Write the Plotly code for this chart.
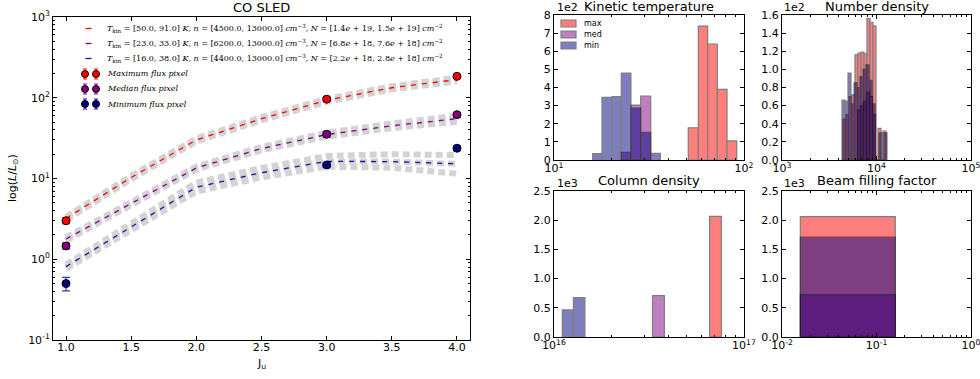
import numpy as np
import plotly.graph_objects as go

W, H = 980, 379

# ---------------- CO SLED data ----------------
J_obs = [1, 3, 4]
L_max = [3.0, 96.0, 184.0]
L_max_err = [0.25, 6.0, 10.0]
L_med = [1.46, 35.3, 61.7]
L_med_err = [0.12, 2.5, 4.0]
L_min = [0.50, 14.7, 23.7]
L_min_err = [0.095, 1.0, 1.6]

J_mod = [1.0, 1.5, 2.0, 2.5, 3.0, 3.5, 4.0]
mod_max = [3.2, 10.3, 30.0, 55.0, 93.0, 133.0, 168.0]
mod_max_lo = [3.05, 9.8, 28.7, 52.5, 89.0, 127.0, 159.0]
mod_max_hi = [3.35, 10.8, 31.3, 57.5, 97.0, 139.0, 177.0]
mod_med = [1.78, 4.9, 13.5, 23.5, 35.0, 45.0, 55.0]
mod_med_lo = [1.70, 4.7, 12.9, 22.4, 33.0, 42.0, 50.5]
mod_med_hi = [1.86, 5.1, 14.1, 24.6, 37.0, 48.0, 60.0]
mod_min = [0.81, 2.5, 7.8, 11.8, 16.3, 16.2, 15.2]
mod_min_lo = [0.76, 2.3, 6.9, 10.3, 14.0, 13.6, 11.5]
mod_min_hi = [0.86, 2.7, 8.9, 13.5, 19.0, 20.0, 19.5]

legend_lines = [
    "<i>T</i><sub>kin</sub> = [50.0, 91.0] <i>K</i>, <i>n</i> = [4500.0, 13000.0] <i>cm</i><sup>−3</sup>, <i>N</i> = [1.4<i>e</i> + 19, 1.5<i>e</i> + 19] <i>cm</i><sup>−2</sup>",
    "<i>T</i><sub>kin</sub> = [23.0, 33.0] <i>K</i>, <i>n</i> = [6200.0, 13000.0] <i>cm</i><sup>−3</sup>, <i>N</i> = [6.8<i>e</i> + 18, 7.6<i>e</i> + 18] <i>cm</i><sup>−2</sup>",
    "<i>T</i><sub>kin</sub> = [16.0, 38.0] <i>K</i>, <i>n</i> = [4400.0, 13000.0] <i>cm</i><sup>−3</sup>, <i>N</i> = [2.2<i>e</i> + 18, 2.8<i>e</i> + 18] <i>cm</i><sup>−2</sup>",
]
legend_points = ["<i>Maximum flux pixel</i>", "<i>Median flux pixel</i>", "<i>Minimum flux pixel</i>"]

# ---------------- histogram data ----------------
# Kinetic temperature [K]
tk_max_edges = [50.9, 57.5, 64.4, 72.4, 81.4, 91.5]
tk_max_counts = [178, 739, 640, 390, 105]
tk_med_edges = [22.6, 25.4, 28.6, 32.3]
tk_med_counts = [42, 303, 353]
tk_min_edges = [15.98, 17.89, 20.2, 22.6, 25.4, 28.6, 32.3, 36.3]
tk_min_counts = [35, 346, 350, 480, 287, 153, 37]

# Number density [cm^-3]
nd_max_edges = [4420, 4760, 5120, 5500, 5920, 6370, 6860, 7380, 7930, 8540, 9180, 9880, 10370, 11160, 11720, 12610]
nd_max_counts = [45, 50, 70, 72, 116, 118, 119, 117, 156, 152, 148, 0, 35, 0, 32]
nd_med_edges = [6296, 6772, 7285, 7837, 8432, 9072, 9760]
nd_med_counts = [55, 60, 65, 75, 70, 50]
nd_min_edges = [4314, 4642, 4994, 5373, 5780, 6219, 6691, 7196, 7743, 8330, 8963, 9641, 10629, 11435, 12006, 12915]
nd_min_counts = [66, 65, 96, 62, 85, 80, 92, 100, 105, 88, 62, 0, 30, 0, 30]

# Column density [cm^-2]
cd_max_edges = [6.59e16, 7.60e16]
cd_max_counts = [2065]
cd_med_edges = [3.30e16, 3.81e16]
cd_med_counts = [709]
cd_min_edges = [1.106e16, 1.265e16, 1.455e16]
cd_min_counts = [463, 675]

# Beam filling factor
bf_max_edges = [0.01563, 0.158]
bf_max_counts = [2060]
bf_med_edges = [0.01563, 0.158]
bf_med_counts = [720]
bf_min_edges = [0.01563, 0.158]
bf_min_counts = [1710]

hist_names = ["max", "med", "min"]
hist_colors = ["red", "purple", "navy"]

# ---------------- helpers ----------------
def px(x):
    return x / W

def py(y):
    return 1 - y / H

FONT = "DejaVu Sans"
SERIF = "DejaVu Serif"

fig = go.Figure()

# ---- CO SLED : gray model bands ----
gray = "#d3d3d3"
bands = [
    [mod_max_lo, mod_max, mod_max_hi],
    [mod_med_lo, mod_med, mod_med_hi],
    [mod_min_lo, mod_min, mod_min_hi],
]
for grp in bands:
    for curve in grp:
        fig.add_trace(go.Scatter(x=J_mod, y=curve, mode="lines",
                                 line=dict(color=gray, width=6, dash="7px,4px"),
                                 hoverinfo="skip", showlegend=False, xaxis="x", yaxis="y"))

line_cols = ["#ff0000", "#800080", "#1515a5"]
for curve, c in zip([mod_max, mod_med, mod_min], line_cols):
    fig.add_trace(go.Scatter(x=J_mod, y=curve, mode="lines",
                             line=dict(color=c, width=1.3, dash="5px,6px"),
                             showlegend=False, xaxis="x", yaxis="y"))

pt_cols = ["#ff0000", "#800080", "#000080"]
err_cols = ["rgba(255,0,0,0.8)", "rgba(128,0,128,0.8)", "rgba(20,20,170,0.85)"]
for vals, errs, c, ec in zip([L_max, L_med, L_min], [L_max_err, L_med_err, L_min_err], pt_cols, err_cols):
    fig.add_trace(go.Scatter(x=J_obs, y=vals, mode="markers",
                             marker=dict(color=c, size=8, line=dict(color="black", width=1)),
                             error_y=dict(type="data", array=errs, color=ec, thickness=1.2, width=4),
                             showlegend=False, xaxis="x", yaxis="y"))

# ---- histograms ----
def add_hist(edges, counts, color, xa, ya):
    le = np.log10(np.array(edges, dtype=float))
    centers = (le[:-1] + le[1:]) / 2
    widths = np.diff(le)
    fig.add_trace(go.Bar(x=centers, y=counts, width=widths, base=0,
                         marker=dict(color=color, line=dict(color="black", width=1.2)),
                         opacity=0.5, showlegend=False, xaxis=xa, yaxis=ya))

hist_sets = [
    ("x2", "y2", [(tk_max_edges, tk_max_counts), (tk_med_edges, tk_med_counts), (tk_min_edges, tk_min_counts)]),
    ("x3", "y3", [(nd_max_edges, nd_max_counts), (nd_med_edges, nd_med_counts), (nd_min_edges, nd_min_counts)]),
    ("x4", "y4", [(cd_max_edges, cd_max_counts), (cd_med_edges, cd_med_counts), (cd_min_edges, cd_min_counts)]),
    ("x5", "y5", [(bf_max_edges, bf_max_counts), (bf_med_edges, bf_med_counts), (bf_min_edges, bf_min_counts)]),
]
for xa, ya, series in hist_sets:
    for (e, cts), col in zip(series, hist_colors):
        add_hist(e, cts, col, xa, ya)

# ---------------- axes ----------------
axis_common = dict(showline=True, linecolor="black", linewidth=1, mirror="allticks",
                   ticks="inside", ticklen=4, tickwidth=1, tickcolor="black",
                   showgrid=False, zeroline=False, automargin=False,
                   ticklabeloverflow="allow",
                   tickfont=dict(family=FONT, size=11, color="black"))

def log_minor(lo, hi):
    vals = []
    for n in range(lo, hi):
        for k in range(2, 10):
            vals.append(np.log10(k) + n)
    return vals

layout = dict(width=W, height=H, margin=dict(l=0, r=0, t=0, b=0, pad=0, autoexpand=False),
              template="none",
              paper_bgcolor="white", plot_bgcolor="white", barmode="overlay",
              font=dict(family=FONT, size=11, color="black"))

# left SLED axes
ymin_vals = [k * 10.0 ** n for n in range(-1, 3) for k in range(2, 10)]
layout["xaxis"] = dict(axis_common, domain=[px(53), px(470)], range=[0.9, 4.1],
                       tickvals=[1.0, 1.5, 2.0, 2.5, 3.0, 3.5, 4.0],
                       ticktext=["1.0", "1.5", "2.0", "2.5", "3.0", "3.5", "4.0"],
                       ticklabelstandoff=-3, anchor="y")
layout["yaxis"] = dict(axis_common, domain=[py(340), py(17)], type="log", range=[-1, 3],
                       tickvals=[0.1, 1, 10, 100, 1000],
                       ticktext=["10<sup>-1</sup>", "10<sup>0</sup>", "10<sup>1</sup>", "10<sup>2</sup>", "10<sup>3</sup>"],
                       minor=dict(ticks="inside", ticklen=2, tickcolor="black", tickvals=ymin_vals),
                       anchor="x")

# histogram axes
hist_specs = [
    ("2", [554, 744], [160, 15], [1, 2], [0, 800], list(range(0, 900, 100)), [str(i) for i in range(9)],
     ["10<sup>1</sup>", "10<sup>2</sup>"], [1, 2]),
    ("3", [782, 971], [160, 15], [3, 5], [0, 160], [0, 20, 40, 60, 80, 100, 120, 140, 160],
     ["0.0", "0.2", "0.4", "0.6", "0.8", "1.0", "1.2", "1.4", "1.6"],
     ["10<sup>3</sup>", "10<sup>4</sup>", "10<sup>5</sup>"], [3, 4, 5]),
    ("4", [554, 744], [337, 191], [16, 17], [0, 2500], [0, 500, 1000, 1500, 2000, 2500],
     ["0.0", "0.5", "1.0", "1.5", "2.0", "2.5"],
     ["10<sup>16</sup>", "10<sup>17</sup>"], [16, 17]),
    ("5", [782, 971], [337, 191], [-2, 0], [0, 2500], [0, 500, 1000, 1500, 2000, 2500],
     ["0.0", "0.5", "1.0", "1.5", "2.0", "2.5"],
     ["10<sup>-2</sup>", "10<sup>-1</sup>", "10<sup>0</sup>"], [-2, -1, 0]),
]
for sfx, xd, yd, xr, yr, ytv, ytt, xtt, xtv in hist_specs:
    layout["xaxis" + sfx] = dict(axis_common, domain=[px(xd[0]), px(xd[1])], range=xr,
                                 tickvals=xtv, ticktext=xtt, anchor="y" + sfx,
                                 ticklabelstandoff=-2,
                                 minor=dict(ticks="inside", ticklen=2, tickcolor="black",
                                            tickvals=log_minor(xr[0], xr[1])))
    layout["yaxis" + sfx] = dict(axis_common, domain=[py(yd[0]), py(yd[1])], range=yr,
                                 tickvals=ytv, ticktext=ytt, anchor="x" + sfx)

fig.update_layout(**layout)

# ---------------- text ----------------
ann = []
def text(x, y, s, size=13, xanchor="center", yanchor="middle", family=FONT, angle=0, color="black"):
    ann.append(dict(x=px(x), y=py(y), xref="paper", yref="paper", text=s, showarrow=False,
                    xanchor=xanchor, yanchor=yanchor, textangle=angle,
                    font=dict(family=family, size=size, color=color)))

text(261.5, 8, "CO SLED", size=13)
text(649, 6, "Kinetic temperature", size=13)
text(876.5, 6, "Number density", size=13)
text(649, 181, "Column density", size=13)
text(876.5, 181, "Beam filling factor", size=13)
for xx, yy, s in [(555, 7, "1e2"), (782, 7, "1e2"), (555, 184, "1e3"), (782, 184, "1e3")]:
    text(xx, yy, s, size=11, xanchor="left")
text(13, 178, "log(<i>L</i>/<i>L</i><sub>⊙</sub>)", size=11, angle=-90)
text(261.5, 364, "J<sub>u</sub>", size=11)

# legend
shapes = []
leg_y_lines = [28.5, 43.5, 58.5]
for yy, s, c in zip(leg_y_lines, legend_lines, line_cols):
    shapes.append(dict(type="line", xref="paper", yref="paper", x0=px(85.5), x1=px(91.5),
                       y0=py(yy), y1=py(yy), line=dict(color=c, width=1.3)))
    text(105, yy, s, size=8, xanchor="left", family=SERIF)
leg_y_pts = [74, 89, 104]
for yy, s, c, ec in zip(leg_y_pts, legend_points, pt_cols, err_cols):
    for xx in [85, 96]:
        shapes.append(dict(type="line", xref="paper", yref="paper", x0=px(xx), x1=px(xx),
                           y0=py(yy - 5), y1=py(yy + 5), line=dict(color=ec, width=1.2)))
        for dy in [-5, 5]:
            shapes.append(dict(type="line", xref="paper", yref="paper", x0=px(xx - 2), x1=px(xx + 2),
                               y0=py(yy + dy), y1=py(yy + dy), line=dict(color=ec, width=1.2)))
        shapes.append(dict(type="circle", xref="paper", yref="paper",
                           xsizemode="pixel", ysizemode="pixel",
                           xanchor=px(xx), yanchor=py(yy), x0=-3.5, x1=3.5, y0=-3.5, y1=3.5,
                           fillcolor=c, line=dict(color="black", width=1)))
    text(105, yy, s, size=8, xanchor="left", family=SERIF)

# histogram legend (kinetic temperature panel)
hist_leg = [("max", 23.5), ("med", 34.5), ("min", 45.5)]
for (name, yy), col in zip(hist_leg, hist_colors):
    shapes.append(dict(type="rect", xref="paper", yref="paper", x0=px(561), x1=px(576),
                       y0=py(yy - 3.5), y1=py(yy + 3.5), fillcolor=col, opacity=0.5,
                       line=dict(color="black", width=1.2)))
    text(582, yy, name, size=8, xanchor="left")

fig.update_layout(annotations=ann, shapes=shapes)
fig.write_html("out.html", config={"displayModeBar": False},
               post_script="document.body.style.margin='0';document.body.style.padding='0';document.body.style.overflow='hidden';")
